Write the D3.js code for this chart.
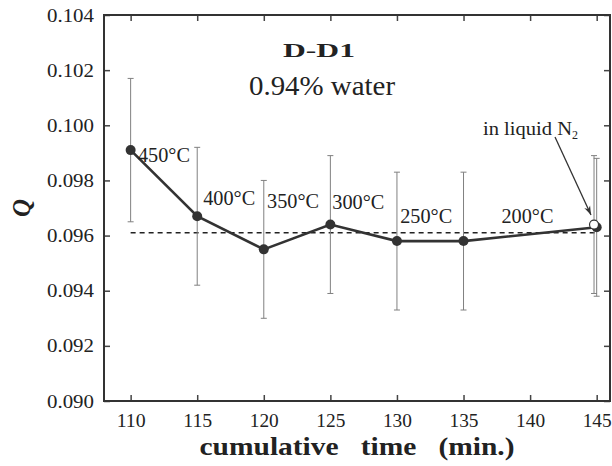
<!DOCTYPE html>
<html>
<head>
<meta charset="utf-8">
<script src="https://cdn.jsdelivr.net/npm/d3@7"></script>
<style>
body { margin: 0; background: #fff; }
</style>
</head>
<body>
<script>
// data
var times = [110, 115, 120, 125, 130, 135, 145];
var qVals = [0.0991, 0.0967, 0.0955, 0.0964, 0.0958, 0.0958, 0.0963];
var qErr = [0.0026, 0.0025, 0.0025, 0.0025, 0.0025, 0.0025, 0.0025];
var temps = ["450°C", "400°C", "350°C", "300°C", "250°C", "200°C"];
var tempAt = [112.5, 117.4, 122.2, 127.1, 132.2, 139.8];
var tempQ = [0.09868, 0.09711, 0.0970, 0.09696, 0.09647, 0.09647];
var n2Time = [144.8], n2Q = [0.0964], n2Err = [0.0025];
var meanQ = 0.0961;
var xTicks = [110, 115, 120, 125, 130, 135, 140, 145];
var yTicks = [0.090, 0.092, 0.094, 0.096, 0.098, 0.100, 0.102, 0.104];

const W = 612, H = 466;
const pLeft = 104, pRight = 610, pTop = 15, pBottom = 401;

const svg = d3.select("body").append("svg")
    .attr("width", W).attr("height", H);

const x = d3.scaleLinear().domain([108, 146]).range([pLeft, pRight]);
const y = d3.scaleLinear().domain([0.090, 0.104]).range([pBottom, pTop]);

// axes with inward ticks on all four sides
svg.append("g").attr("transform", "translate(0," + pBottom + ")")
    .call(d3.axisBottom(x).tickValues(xTicks).tickSizeInner(-6).tickSizeOuter(0).tickPadding(13))
    .call(g => g.select(".domain").remove())
    .call(g => g.selectAll(".tick text").attr("textLength", 29).attr("lengthAdjust", "spacingAndGlyphs"));
svg.append("g").attr("transform", "translate(0," + pTop + ")")
    .call(d3.axisTop(x).tickValues(xTicks).tickSizeInner(-6).tickSizeOuter(0).tickFormat(""))
    .call(g => g.select(".domain").remove());
svg.append("g").attr("transform", "translate(" + pLeft + ",0)")
    .call(d3.axisLeft(y).tickValues(yTicks).tickSizeInner(-6).tickSizeOuter(0).tickPadding(10).tickFormat(d3.format(".3f")))
    .call(g => g.select(".domain").remove())
    .call(g => g.selectAll(".tick text").attr("textLength", 47).attr("lengthAdjust", "spacingAndGlyphs"));
svg.append("g").attr("transform", "translate(" + pRight + ",0)")
    .call(d3.axisRight(y).tickValues(yTicks).tickSizeInner(-6).tickSizeOuter(0).tickFormat(""))
    .call(g => g.select(".domain").remove());

svg.selectAll(".tick line").attr("stroke", "#444").attr("stroke-width", 1.5);
svg.selectAll(".tick text").attr("font-size", 19).attr("fill", "#222");

svg.append("rect")
    .attr("x", pLeft).attr("y", pTop)
    .attr("width", pRight - pLeft).attr("height", pBottom - pTop)
    .attr("fill", "none").attr("stroke", "#333").attr("stroke-width", 2);

// mean dashed line
svg.append("line")
    .attr("x1", x(110)).attr("x2", x(145))
    .attr("y1", y(meanQ)).attr("y2", y(meanQ))
    .attr("stroke", "#222").attr("stroke-width", 1.6)
    .attr("stroke-dasharray", "5,4");

// error bars
function errBars(tt, qq, ee) {
  var g = svg.append("g").attr("stroke", "#808080").attr("stroke-width", 1);
  tt.forEach(function(t, i) {
    g.append("line").attr("x1", x(t)).attr("x2", x(t))
      .attr("y1", y(qq[i] - ee[i])).attr("y2", y(qq[i] + ee[i]));
    [qq[i] - ee[i], qq[i] + ee[i]].forEach(function(v) {
      g.append("line").attr("x1", x(t) - 3).attr("x2", x(t) + 3)
        .attr("y1", y(v)).attr("y2", y(v));
    });
  });
}
errBars(times, qVals, qErr);
errBars(n2Time, n2Q, n2Err);

// data line
var pts = times.map((t, i) => [t, qVals[i]]);
svg.append("path")
    .datum(pts)
    .attr("fill", "none").attr("stroke", "#333").attr("stroke-width", 2.6)
    .attr("d", d3.line().x(d => x(d[0])).y(d => y(d[1])));

svg.selectAll(".pt").data(pts).enter().append("circle")
    .attr("cx", d => x(d[0])).attr("cy", d => y(d[1]))
    .attr("r", 5).attr("fill", "#333");

svg.append("circle")
    .attr("cx", x(n2Time[0])).attr("cy", y(n2Q[0]))
    .attr("r", 4.5).attr("fill", "#fff").attr("stroke", "#333").attr("stroke-width", 1.2);

// temperature labels
svg.selectAll(".temp").data(temps).enter().append("text")
    .attr("x", (d, i) => x(tempAt[i]))
    .attr("y", (d, i) => y(tempQ[i]))
    .attr("text-anchor", "middle")
    .attr("font-size", 20)
    .attr("textLength", 52).attr("lengthAdjust", "spacingAndGlyphs")
    .text(d => d);

// titles
svg.append("text").attr("x", 319).attr("y", 57)
    .attr("text-anchor", "middle").attr("font-size", 19).attr("font-weight", "bold")
    .attr("textLength", 72).attr("lengthAdjust", "spacingAndGlyphs")
    .text("D-D1");
svg.append("text").attr("x", 322).attr("y", 95)
    .attr("text-anchor", "middle").attr("font-size", 27)
    .attr("textLength", 146).attr("lengthAdjust", "spacingAndGlyphs")
    .text("0.94% water");

// liquid N2 annotation
var n2 = svg.append("text").attr("x", 483).attr("y", 135).attr("font-size", 18);
n2.append("tspan").attr("textLength", 89).attr("lengthAdjust", "spacingAndGlyphs").text("in liquid N");
n2.append("tspan").attr("font-size", 12).attr("dy", 4).text("2");

svg.append("defs").append("marker")
    .attr("id", "ah").attr("viewBox", "0 0 10 10")
    .attr("refX", 10).attr("refY", 5)
    .attr("markerWidth", 9).attr("markerHeight", 7)
    .attr("orient", "auto")
    .append("path").attr("d", "M0,1.5 L10,5 L0,8.5 L3,5 Z")
    .attr("fill", "#333");
svg.append("line")
    .attr("x1", 555).attr("y1", 137)
    .attr("x2", 591).attr("y2", 215)
    .attr("stroke", "#333").attr("stroke-width", 1.3)
    .attr("marker-end", "url(#ah)");

// axis titles
svg.append("text").attr("x", 357).attr("y", 455)
    .attr("text-anchor", "middle").attr("font-size", 25).attr("font-weight", "bold")
    .attr("textLength", 315).attr("lengthAdjust", "spacingAndGlyphs")
    .style("white-space", "pre")
    .text("cumulative   time   (min.)");
svg.append("text")
    .attr("transform", "translate(30,208) rotate(-90)")
    .attr("text-anchor", "middle").attr("font-size", 25)
    .attr("font-weight", "bold").attr("font-style", "italic")
    .text("Q");

// serif everywhere (inline style wins over axis defaults)
svg.selectAll("text")
    .style("font-family", "'Liberation Serif', 'Times New Roman', serif")
    .style("fill", "#222");
</script>
</body>
</html>
